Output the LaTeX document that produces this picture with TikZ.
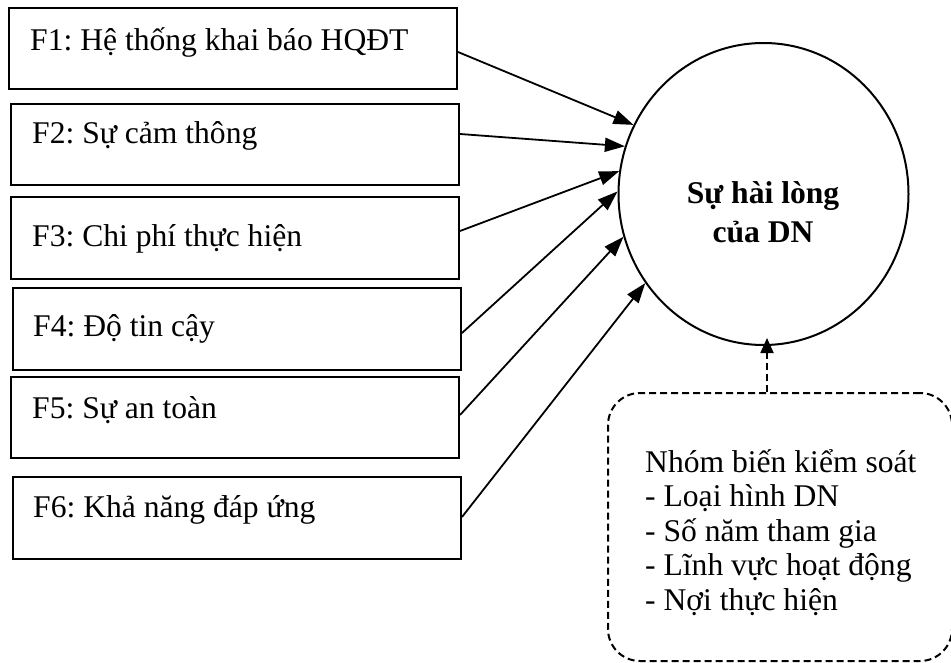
\documentclass[tikz,border=0pt]{standalone}
\usepackage{fontspec}
\setmainfont{Liberation Serif}
\usetikzlibrary{arrows.meta,shapes.geometric,calc}
\newcommand\mytightlines{\lineskiplimit=-100pt\relax}
\frenchspacing
\begin{document}
\begin{tikzpicture}[x=1pt,y=-1pt,
  fbox/.style={draw, line width=2pt, inner sep=0pt, minimum width=448pt, minimum height=81pt},
  flabel/.style={anchor=base west, inner sep=0pt, font=\fontsize{31.6}{36}\selectfont},
  arr/.style={line width=1.8pt, -{Triangle[length=20pt,width=14pt]}},
  darr/.style={line width=1.8pt, dash pattern=on 7pt off 4pt, -{Triangle[length=15pt,width=13pt]}},
]
\useasboundingbox (0,0) rectangle (951,663);
\clip (0,0) rectangle (951,663);
\fill[white] (0,0) rectangle (951,663);

% factor boxes
\node[fbox] (F1) at (233,48.5) {};
\node[fbox] (F2) at (235,144.5) {};
\node[fbox, minimum height=82pt] (F3) at (235,238) {};
\node[fbox, minimum height=82pt] (F4) at (237,329) {};
\node[fbox] (F5) at (235,417.5) {};
\node[fbox, minimum height=82pt] (F6) at (237,518) {};

\node[flabel] (L1) at (30,51) {F1: Hệ thống khai báo HQĐT};
\node[flabel] (L2) at (32,144) {F2: Sự cảm thông};
\node[flabel] (L3) at (32,247) {F3: Chi phí thực hiện};
\node[flabel] (L4) at (33,337) {F4: Độ tin cậy};
\node[flabel] (L5) at (32,418) {F5: Sự an toàn};
\node[flabel] (L6) at (33,517) {F6: Khả năng đáp ứng};

% outcome
\node[draw, ellipse, line width=2pt, inner sep=0pt, minimum width=290pt, minimum height=302pt] (C) at (763.5,194) {};
\node[align=center, anchor=base, inner sep=0pt, font=\bfseries\fontsize{31.6}{39}\selectfont] (CT) at (763,243) {Sự hài lòng\\của DN};

% control box
\node[draw, line width=2pt, dash pattern=on 7pt off 4pt, rounded corners=32pt, inner sep=0pt,
      minimum width=344pt, minimum height=268pt] (K) at (780,527) {};
\node[align=left, anchor=base west, inner sep=0pt, font={\fontsize{31.6}{34.5}\selectfont\mytightlines}] (KT) at (645,610)
  {Nhóm biến kiểm soát\\- Loại hình DN\\- Số năm tham gia\\- Lĩnh vực hoạt động\\- Nợi thực hiện};

% connectors
\draw[arr] ($(F1.east)+(0,3.5)$) -- (C.152.9);
\draw[arr] ($(F2.east)+(0,-10.5)$) -- (C.161.6);
\draw[arr] ($(F3.east)+(0,-7)$) -- (C.171.8);
\draw[arr] ($(F4.east)+(0,4)$) -- (C.179.6);
\draw[arr] ($(F5.east)+(0,-2.5)$) -- (C.197);
\draw[arr] ($(F6.east)+(0,-1)$) -- (C.217.2);
\coordinate (tip) at ($(C.south)+(3.5,-8)$);
\draw[darr] (K.north -| tip) -- (tip);
\end{tikzpicture}
\end{document}
